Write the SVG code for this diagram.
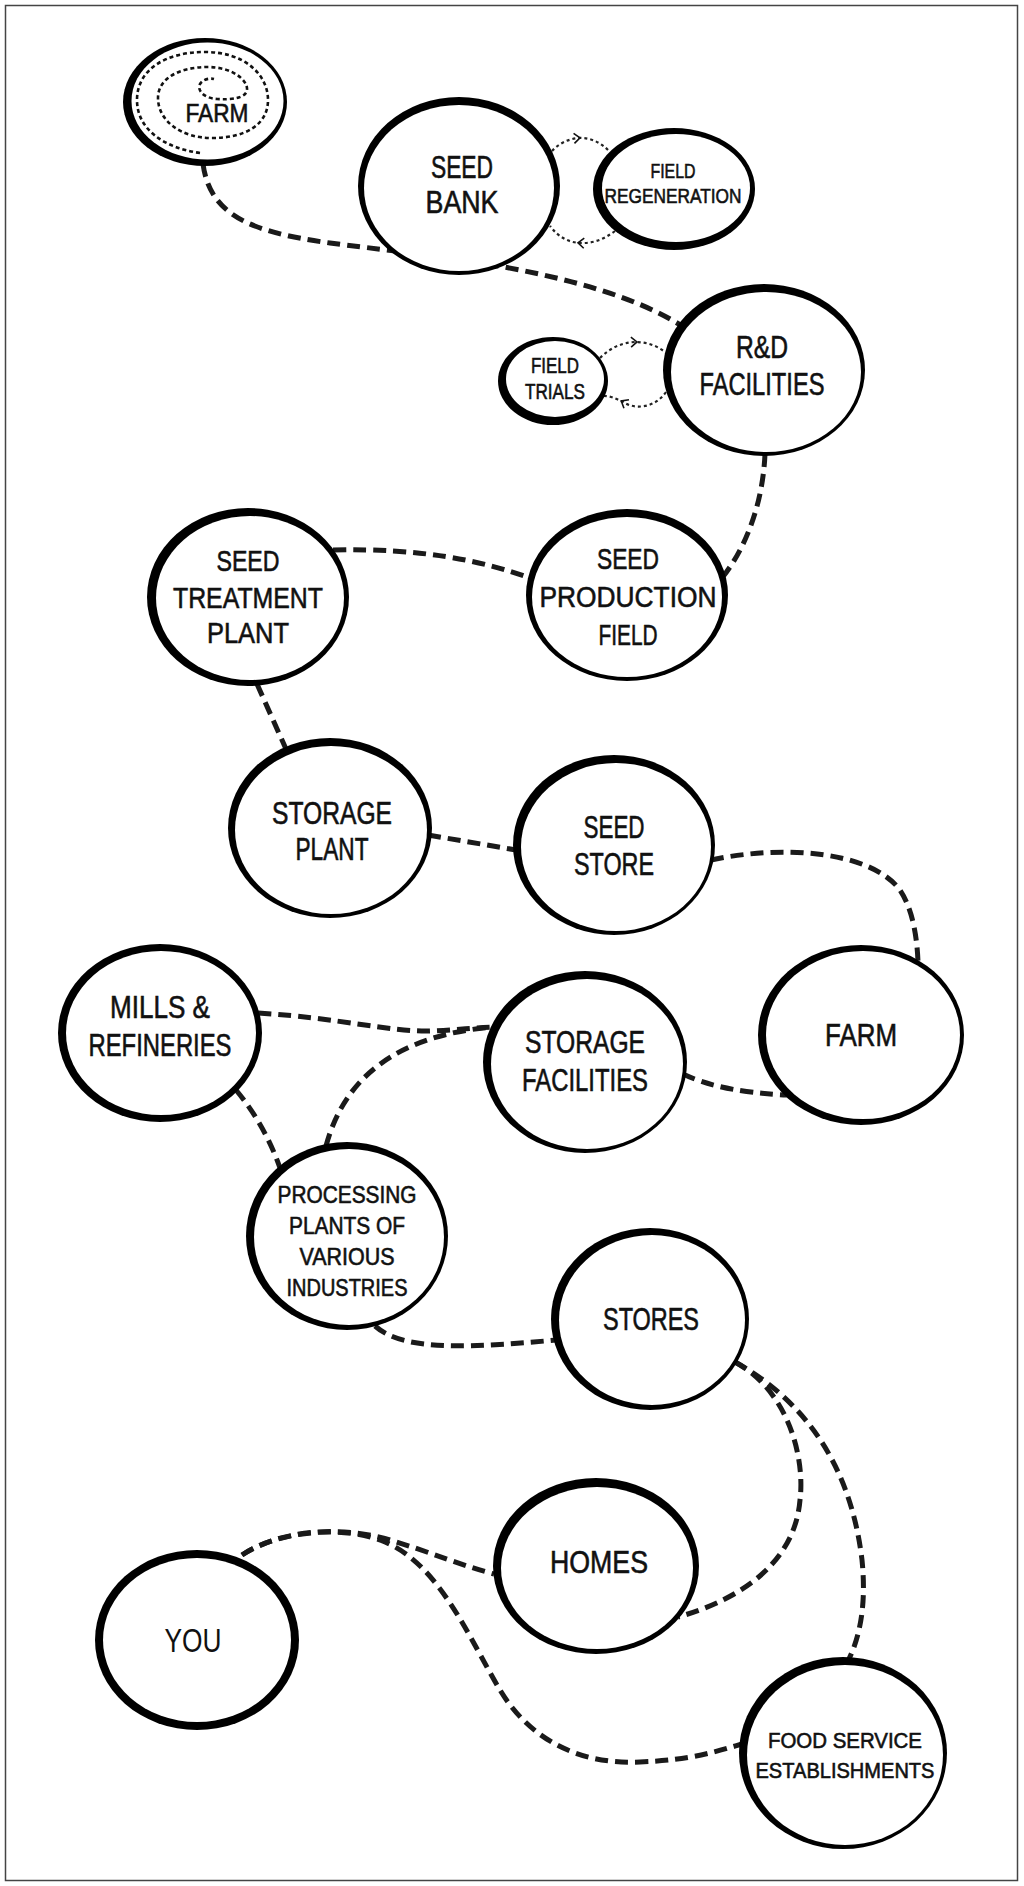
<svg xmlns="http://www.w3.org/2000/svg" width="1024" height="1886" viewBox="0 0 1024 1886">
<style>
.o{fill:#000}
.i{fill:#fff}
.t{font-family:"Liberation Sans",Arial,sans-serif;fill:#111;stroke:#111;stroke-width:0.6;text-anchor:middle}
.c{fill:none;stroke:#1a1a1a;stroke-width:5;stroke-dasharray:13 7}
.d{fill:none;stroke:#222;stroke-width:2.2;stroke-dasharray:3 3}
.sp{fill:none;stroke:#111;stroke-width:2.6;stroke-dasharray:4 3}
</style>
<defs>
<marker id="chev" markerUnits="userSpaceOnUse" markerWidth="14" markerHeight="14" viewBox="-7 -7 14 14" refX="0" refY="0" orient="auto">
<path d="M-4,-5 L2,0 L-4,5" fill="none" stroke="#111" stroke-width="1.6"/>
</marker>
</defs>
<rect x="0" y="0" width="1024" height="1886" fill="#fff"/>
<rect x="5.5" y="5.5" width="1012" height="1875" fill="none" stroke="#444" stroke-width="1.5"/>

<g id="connectors">
<path class="c" d="M203,164 C210,215 250,232 330,243 C420,255 590,268 682,326"/>
<path class="c" d="M765,454 C763,500 748,545 722,578"/>
<path class="c" d="M333,550 C420,548 480,560 530,578"/>
<path class="c" d="M257,684 L286,749"/>
<path class="c" d="M428,835 L516,850"/>
<path class="c" d="M711,860 C780,845 870,850 900,890 C912,908 917,935 918,962"/>
<path class="c" d="M683,1074 Q720,1092 787,1095"/>
<path class="c" d="M258,1013 C340,1018 390,1032 430,1031 C455,1030 470,1028 493,1027"/>
<path class="c" d="M326,1146 C345,1075 400,1035 493,1027"/>
<path class="c" d="M236,1090 Q265,1125 280,1168"/>
<path class="c" d="M375,1326 C400,1348 450,1350 556,1340"/>
<path class="c" d="M735,1362 C790,1392 805,1460 800,1500 C795,1560 745,1598 678,1617"/>
<path class="c" d="M735,1362 C800,1398 850,1460 862,1560 C866,1600 862,1635 846,1665"/>
<path class="c" d="M242,1555 C280,1530 340,1525 390,1540 C430,1552 460,1565 494,1574"/>
<path class="c" d="M242,1555 C280,1530 345,1525 385,1542 C440,1565 470,1640 500,1690 C530,1740 580,1765 640,1762 C690,1760 715,1752 742,1744"/>
<path class="d" marker-mid="url(#chev)" d="M552,151 Q562,140 578,138 Q596,137 610,152"/>
<path class="d" marker-mid="url(#chev)" d="M615,231 Q598,244 580,243 Q562,242 550,226"/>
<path class="d" marker-mid="url(#chev)" d="M600,358 Q615,343 635,342 Q652,342 665,352"/>
<path class="d" marker-mid="url(#chev)" d="M666,392 C655,408 635,410 623,402 C615,398 610,396 604,396"/>
</g>

<g id="farm-top">
<ellipse class="o" cx="205" cy="102" rx="82" ry="64"/>
<ellipse class="i" cx="207.5" cy="101" rx="76" ry="58.5"/>
<path class="sp" d="M200,153 C165,148 137,130 137,100 C137,70 165,52 205,52 C245,52 268,75 268,100 C268,125 245,138 212,138 C180,138 158,120 158,98 C158,78 180,67 208,67 C232,67 248,80 247,90 C246,98 232,100 217,99 C203,98 197,90 200,84 C203,79 210,78 214,79"/>
<text class="t" x="217" y="122" font-size="25" textLength="63" lengthAdjust="spacingAndGlyphs">FARM</text>
</g>

<g id="seed-bank">
<ellipse class="o" cx="459" cy="186" rx="101" ry="89"/>
<ellipse class="i" cx="459" cy="188" rx="95" ry="83"/>
<text class="t" x="462" y="178" font-size="32" textLength="62" lengthAdjust="spacingAndGlyphs">SEED</text>
<text class="t" x="462" y="213" font-size="32" textLength="73" lengthAdjust="spacingAndGlyphs">BANK</text>
</g>

<g id="field-regeneration">
<ellipse class="o" cx="674" cy="189" rx="81" ry="61"/>
<ellipse class="i" cx="676" cy="188" rx="74" ry="54"/>
<text class="t" x="673" y="178" font-size="21" textLength="45" lengthAdjust="spacingAndGlyphs">FIELD</text>
<text class="t" x="673" y="203" font-size="21" textLength="137" lengthAdjust="spacingAndGlyphs">REGENERATION</text>
</g>

<g id="rd-facilities">
<ellipse class="o" cx="764" cy="370" rx="101" ry="86"/>
<ellipse class="i" cx="766" cy="372" rx="95" ry="80"/>
<text class="t" x="762" y="358" font-size="31" textLength="52" lengthAdjust="spacingAndGlyphs">R&amp;D</text>
<text class="t" x="762" y="395" font-size="31" textLength="125" lengthAdjust="spacingAndGlyphs">FACILITIES</text>
</g>

<g id="field-trials">
<ellipse class="o" cx="553" cy="381" rx="55" ry="44"/>
<ellipse class="i" cx="555" cy="379" rx="49" ry="38"/>
<text class="t" x="555" y="373" font-size="22" textLength="48" lengthAdjust="spacingAndGlyphs">FIELD</text>
<text class="t" x="555" y="399" font-size="22" textLength="60" lengthAdjust="spacingAndGlyphs">TRIALS</text>
</g>

<g id="seed-production-field">
<ellipse class="o" cx="627" cy="595" rx="101" ry="86"/>
<ellipse class="i" cx="627" cy="597" rx="95" ry="80"/>
<text class="t" x="628" y="569" font-size="30" textLength="62" lengthAdjust="spacingAndGlyphs">SEED</text>
<text class="t" x="628" y="607" font-size="30" textLength="177" lengthAdjust="spacingAndGlyphs">PRODUCTION</text>
<text class="t" x="628" y="645" font-size="30" textLength="59" lengthAdjust="spacingAndGlyphs">FIELD</text>
</g>

<g id="seed-treatment-plant">
<ellipse class="o" cx="248" cy="597" rx="101" ry="89"/>
<ellipse class="i" cx="250" cy="598" rx="94" ry="82"/>
<text class="t" x="248" y="571" font-size="30" textLength="63" lengthAdjust="spacingAndGlyphs">SEED</text>
<text class="t" x="248" y="608" font-size="30" textLength="150" lengthAdjust="spacingAndGlyphs">TREATMENT</text>
<text class="t" x="248" y="643" font-size="30" textLength="82" lengthAdjust="spacingAndGlyphs">PLANT</text>
</g>

<g id="storage-plant">
<ellipse class="o" cx="330" cy="828" rx="102" ry="90"/>
<ellipse class="i" cx="331" cy="830" rx="96" ry="84"/>
<text class="t" x="332" y="824" font-size="31" textLength="120" lengthAdjust="spacingAndGlyphs">STORAGE</text>
<text class="t" x="332" y="860" font-size="31" textLength="73" lengthAdjust="spacingAndGlyphs">PLANT</text>
</g>

<g id="seed-store">
<ellipse class="o" cx="614" cy="845" rx="101" ry="90"/>
<ellipse class="i" cx="616" cy="847" rx="95" ry="84"/>
<text class="t" x="614" y="838" font-size="31" textLength="61" lengthAdjust="spacingAndGlyphs">SEED</text>
<text class="t" x="614" y="875" font-size="31" textLength="80" lengthAdjust="spacingAndGlyphs">STORE</text>
</g>

<g id="farm">
<ellipse class="o" cx="861" cy="1035" rx="103" ry="90"/>
<ellipse class="i" cx="863" cy="1035" rx="97" ry="84"/>
<text class="t" x="861" y="1046" font-size="31" textLength="72" lengthAdjust="spacingAndGlyphs">FARM</text>
</g>

<g id="storage-facilities">
<ellipse class="o" cx="585" cy="1062" rx="102" ry="91"/>
<ellipse class="i" cx="587" cy="1064" rx="96" ry="85"/>
<text class="t" x="585" y="1053" font-size="31" textLength="120" lengthAdjust="spacingAndGlyphs">STORAGE</text>
<text class="t" x="585" y="1091" font-size="31" textLength="126" lengthAdjust="spacingAndGlyphs">FACILITIES</text>
</g>

<g id="mills-refineries">
<ellipse class="o" cx="160" cy="1033" rx="102" ry="89"/>
<ellipse class="i" cx="161" cy="1033" rx="95" ry="82"/>
<text class="t" x="160" y="1018" font-size="31" textLength="100" lengthAdjust="spacingAndGlyphs">MILLS &amp;</text>
<text class="t" x="160" y="1056" font-size="31" textLength="143" lengthAdjust="spacingAndGlyphs">REFINERIES</text>
</g>

<g id="processing-plants">
<ellipse class="o" cx="347" cy="1236" rx="101" ry="94"/>
<ellipse class="i" cx="349" cy="1237" rx="95" ry="88"/>
<text class="t" x="347" y="1203" font-size="24" textLength="139" lengthAdjust="spacingAndGlyphs">PROCESSING</text>
<text class="t" x="347" y="1234" font-size="24" textLength="116" lengthAdjust="spacingAndGlyphs">PLANTS OF</text>
<text class="t" x="347" y="1265" font-size="24" textLength="95" lengthAdjust="spacingAndGlyphs">VARIOUS</text>
<text class="t" x="347" y="1296" font-size="24" textLength="121" lengthAdjust="spacingAndGlyphs">INDUSTRIES</text>
</g>

<g id="stores">
<ellipse class="o" cx="650" cy="1319" rx="99" ry="91"/>
<ellipse class="i" cx="652" cy="1320" rx="93" ry="85"/>
<text class="t" x="651" y="1330" font-size="31" textLength="96" lengthAdjust="spacingAndGlyphs">STORES</text>
</g>

<g id="homes">
<ellipse class="o" cx="596" cy="1566" rx="103" ry="88"/>
<ellipse class="i" cx="597" cy="1568" rx="96" ry="81"/>
<text class="t" x="599" y="1573" font-size="31" textLength="98" lengthAdjust="spacingAndGlyphs">HOMES</text>
</g>

<g id="you">
<ellipse class="o" cx="197" cy="1640" rx="102" ry="90"/>
<ellipse class="i" cx="197" cy="1640" rx="94" ry="82"/>
<text class="t" x="193" y="1652" font-size="33" stroke-width="0" textLength="57" lengthAdjust="spacingAndGlyphs" style="stroke-width:0">YOU</text>
</g>

<g id="food-service">
<ellipse class="o" cx="843" cy="1753" rx="104" ry="96"/>
<ellipse class="i" cx="845" cy="1755" rx="98" ry="90"/>
<text class="t" x="845" y="1748" font-size="22" textLength="154" lengthAdjust="spacingAndGlyphs">FOOD SERVICE</text>
<text class="t" x="845" y="1778" font-size="22" textLength="179" lengthAdjust="spacingAndGlyphs">ESTABLISHMENTS</text>
</g>
</svg>
